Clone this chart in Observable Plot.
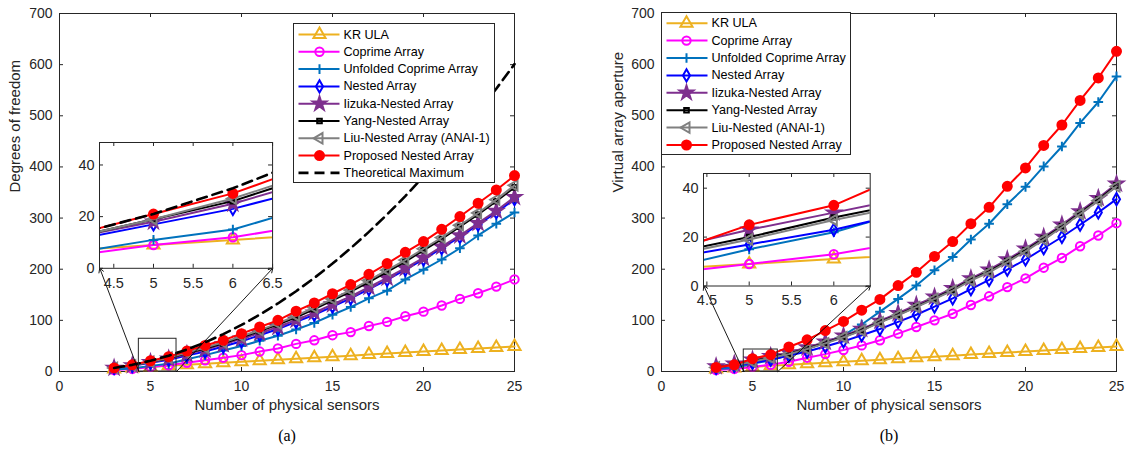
<!DOCTYPE html>
<html><head><meta charset="utf-8">
<script src="https://cdn.jsdelivr.net/npm/d3@7"></script>
<script src="https://cdn.jsdelivr.net/npm/@observablehq/plot@0.6"></script>
<style>
body{margin:0;background:#fff;}
#root{position:relative;width:1127px;height:453px;background:#fff;overflow:hidden;}
</style>
</head><body><div id="root"></div>
<script>
// ---------------- data ----------------
const N = [3,4,5,6,7,8,9,10,11,12,13,14,15,16,17,18,19,20,21,22,23,24,25];

const namesA = ["KR ULA","Coprime Array","Unfolded Coprime Array","Nested Array","Iizuka-Nested Array","Yang-Nested Array","Liu-Nested Array (ANAI-1)","Proposed Nested Array","Theoretical Maximum"];
const namesB = ["KR ULA","Coprime Array","Unfolded Coprime Array","Nested Array","Iizuka-Nested Array","Yang-Nested Array","Liu-Nested (ANAI-1)","Proposed Nested Array"];

// (a) degrees of freedom
const krA       = [5,7,9,11,13,15,17,19,21,23,25,27,29,31,33,35,37,39,41,43,45,47,49];
const coprimeA  = [3,5,9,12,17,22,27,32,39,45,54,61,71,77,89,97,108,117,129,142,153,166,180];
const unfoldedA = [4,6,11,15,24,32,41,50,60,70,82,95,111,126,143,158,180,199,219,241,266,289,311];
const nestedA   = [7,11,17,23,31,39,49,59,71,83,97,111,127,143,161,179,199,219,241,263,287,311,337];
const iizukaA   = [7,12,18,25,34,43,53,64,75,87,101,115,131,147,165,183,202,222,244,266,290,314,341];
const yangA     = [7,12,19,26,36,45,55,67,79,92,106,122,139,156,175,195,215,237,259,283,307,333,360];
const liuA      = [7,12,19,27,37,47,57,69,81,94,109,125,142,159,178,198,218,240,262,286,310,336,364];
const proposedA = [7,13,21,29,40,51,61,74,87,100,118,134,152,170,190,211,233,254,278,303,329,355,383];
const theoryA   = [7,13,21,31,43,57,73,91,111,133,157,183,211,241,273,307,343,381,421,463,507,553,601];

// (b) virtual array aperture
const krB       = [5,7,9,11,13,15,17,19,21,23,25,27,29,31,33,35,37,39,41,43,45,47,49];
const coprimeB  = [3,5,9,13,19,27,34,42,51,61,74,87,100,113,130,147,165,182,203,222,245,266,290];
const unfoldedB = [5,7,15,22,32,44,57,71,92,117,142,168,198,224,258,289,327,361,401,440,486,527,577];
const nestedB   = [7,11,17,23,31,39,49,59,71,83,97,111,127,143,161,179,199,219,241,263,287,311,337];
const iizukaB   = [10,15,23,30,37,47,58,70,83,99,114,130,146,163,182,199,219,240,263,287,313,339,367];
const yangB     = [8,13,20,28,35,45,56,68,81,97,111,127,143,160,179,196,216,237,260,284,310,336,364];
const liuB      = [8,12,19,27,34,44,55,67,80,96,110,126,142,158,178,194,214,235,258,282,308,334,362];
const proposedB = [8,13,25,33,48,62,80,98,120,141,168,194,225,254,289,321,362,398,442,482,530,574,626];

const xTicksMain = [0,5,10,15,20,25];
const yTicksMain = [0,100,200,300,400,500,600,700];
const insetXTicksA = [4.5,5,5.5,6,6.5];
const insetXTicksB = [4.5,5,5.5,6];
const insetYTicks = [0,20,40];

// ---------------- styles ----------------
const triLeft = {draw(ctx, size){ const r = Math.sqrt(size/Math.PI)*1.25; ctx.moveTo(-r,0); ctx.lineTo(r*0.5,-r*0.866); ctx.lineTo(r*0.5,r*0.866); ctx.closePath(); }};
const seriesStyle = [
  {color:"#EDB120", symbol:"triangle", fill:"none", r:4.5},
  {color:"#FF00FF", symbol:"circle",   fill:"none", r:4.2},
  {color:"#0072BD", symbol:"plus",     fill:"none", r:3.2},
  {color:"#0000FF", symbol:"diamond",  fill:"none", r:3.7},
  {color:"#7E2F8E", symbol:"star",     fill:"#7E2F8E", r:4.3},
  {color:"#000000", symbol:"square",   fill:"none", r:2.6},
  {color:"#808080", symbol:triLeft,    fill:"none", r:4.8},
  {color:"#FF0000", symbol:"circle",   fill:"#FF0000", r:4.5},
  {color:"#000000", symbol:null, dash:"10,6", width:2.6}
];
const AXC = "#262626";
const FONT = "'Liberation Sans', Arial, Helvetica, sans-serif";

const root = document.getElementById("root");
function place(el, left, top){ el.style.position="absolute"; el.style.left=left+"px"; el.style.top=top+"px"; root.appendChild(el); }

function rowsFor(list){ const rows=[]; list.forEach((vals,s)=>vals.forEach((v,k)=>rows.push({x:N[k], y:v, s}))); return rows; }

function seriesMarks(rows, count, clip){
  const marks=[];
  for(let s=0;s<count;s++){
    const st=seriesStyle[s]; const d=rows.filter(r=>r.s===s);
    marks.push(Plot.line(d,{x:"x",y:"y",stroke:st.color,strokeWidth:st.width||2,strokeDasharray:st.dash,clip}));
    if(st.symbol) marks.push(Plot.dot(d,{x:"x",y:"y",symbol:st.symbol,r:st.r,stroke:st.color,fill:st.fill,strokeWidth:2,clip}));
  }
  return marks;
}

function boxTicks(xt, yt, xd, yd, fw, fh, len){
  const ly = len*(yd[1]-yd[0])/fh, lx = len*(xd[1]-xd[0])/fw;
  const o = {stroke:AXC, strokeWidth:1};
  return [
    Plot.ruleX(xt,{x:d=>d,y1:yd[0],y2:yd[0]+ly,...o}),
    Plot.ruleX(xt,{x:d=>d,y1:yd[1],y2:yd[1]-ly,...o}),
    Plot.ruleY(yt,{y:d=>d,x1:xd[0],x2:xd[0]+lx,...o}),
    Plot.ruleY(yt,{y:d=>d,x1:xd[1],x2:xd[1]-lx,...o})
  ];
}

function panel(p){
  const H = 453, mt = 13, mb = 82;
  const fw = p.width - p.ml - p.mr, fh = H - mt - mb;
  const xd=[0,25], yd=[0,700];
  const rows = rowsFor(p.series);
  const n = p.series.length;
  const arrows = [
    {x1:p.rect.x1, y1:p.rect.y1, x2:p.inset.x1, y2:p.inset.y1},
    {x1:p.rect.x2, y1:p.rect.y1, x2:p.inset.x2, y2:p.inset.y1}
  ];
  const main = Plot.plot({
    width:p.width, height:H, marginLeft:p.ml, marginRight:p.mr, marginTop:mt, marginBottom:mb,
    x:{domain:xd, ticks:xTicksMain, tickSize:0, tickPadding:10, label:null, tickFormat:d=>String(d)},
    y:{domain:yd, ticks:yTicksMain, tickSize:0, tickPadding:7, label:null, tickFormat:d=>String(d)},
    style:{background:"transparent", overflow:"visible", fontFamily:FONT, fontSize:"14px", color:AXC},
    marks:[
      ...boxTicks(xTicksMain, yTicksMain, xd, yd, fw, fh, 4),
      Plot.frame({stroke:AXC, strokeWidth:1}),
      ...seriesMarks(rows, n, false),
      Plot.rect([p.rect],{x1:"x1",x2:"x2",y1:"y1",y2:"y2",fill:"none",stroke:AXC,strokeWidth:1}),
      Plot.arrow(arrows,{x1:"x1",y1:"y1",x2:"x2",y2:"y2",stroke:"#000",strokeWidth:0.9,headLength:8}),
      Plot.text([p.xlabel],{frameAnchor:"bottom", dy:38, fontSize:15, fill:AXC}),
      Plot.text([p.ylabel],{frameAnchor:"left", rotate:-90, dx:p.ylabDx, fontSize:15, fill:AXC}),
      Plot.text([p.caption],{frameAnchor:"bottom", dy:69, fontSize:16, fontFamily:"'Liberation Serif', 'Times New Roman', serif", fill:"#000"})
    ]
  });
  place(main, p.left, 0);

  // inset
  const px = x => p.left + p.ml + (x - xd[0])/(xd[1]-xd[0])*fw;
  const py = y => mt + fh - (y - yd[0])/(yd[1]-yd[0])*fh;
  const fx1 = px(p.inset.x1), fx2 = px(p.inset.x2), fy1 = py(p.inset.y2), fy2 = py(p.inset.y1);
  const iml=40, imr=18, imt=20, imb=34;
  const ifw = fx2-fx1, ifh = fy2-fy1;
  const irows = rows.filter(r=>r.x>=4 && r.x<=7);
  const inset = Plot.plot({
    width:ifw+iml+imr, height:ifh+imt+imb, marginLeft:iml, marginRight:imr, marginTop:imt, marginBottom:imb,
    x:{domain:p.ixd, ticks:p.ixt, tickSize:0, tickPadding:9, label:null, tickFormat:d=>String(d)},
    y:{domain:p.iyd, ticks:insetYTicks, tickSize:0, tickPadding:5, label:null, tickFormat:d=>String(d)},
    style:{background:"transparent", overflow:"visible", fontFamily:FONT, fontSize:"14.5px", color:AXC},
    marks:[
      Plot.frame({fill:"white"}),
      ...boxTicks(p.ixt, insetYTicks, p.ixd, p.iyd, ifw, ifh, 4),
      ...seriesMarks(irows, n, true),
      Plot.frame({stroke:AXC, strokeWidth:1})
    ]
  });
  place(inset, fx1-iml, fy1-imt);

  // legend
  const L = p.legend;
  const items = p.names.map((name,i)=>({name, i, yy:L.y0 + i*L.step, x1:5, x2:46, xm:L.xm, xt:50}));
  const lmarks = [Plot.frame({fill:"white", stroke:AXC, strokeWidth:1})];
  items.forEach(it=>{
    const st = seriesStyle[it.i];
    lmarks.push(Plot.link([it],{x1:"x1",x2:"x2",y1:"yy",y2:"yy",stroke:st.color,strokeWidth:st.width||2,strokeDasharray:st.dash}));
    if(st.symbol) lmarks.push(Plot.dot([it],{x:"xm",y:"yy",symbol:st.symbol,r:st.r,stroke:st.color,fill:st.fill,strokeWidth:2}));
  });
  lmarks.push(Plot.text(items,{x:"xt",y:"yy",text:"name",textAnchor:"start",fontSize:12.6,fill:"#000"}));
  const leg = Plot.plot({
    width:L.w, height:L.h, margin:0,
    x:{domain:[0,L.w], range:[0,L.w], axis:null},
    y:{domain:[0,L.h], range:[0,L.h], axis:null},
    style:{background:"transparent", overflow:"visible", fontFamily:FONT, color:"#000"},
    marks:lmarks
  });
  place(leg, L.x, L.y);
}

panel({
  left:0, width:560, ml:59, mr:46,
  series:[krA,coprimeA,unfoldedA,nestedA,iizukaA,yangA,liuA,proposedA,theoryA],
  names:namesA,
  xlabel:"Number of physical sensors", ylabel:"Degrees of freedom", ylabDx:-44, caption:"(a)",
  rect:{x1:4.36,x2:6.43,y1:0,y2:64},
  inset:{x1:2.21,x2:11.72,y1:202,y2:448},
  ixd:[4.32,6.5], iyd:[0,48.7], ixt:insetXTicksA,
  legend:{x:293, y:23, w:201, h:159, y0:11, step:17.3, xm:26}
});

panel({
  left:600, width:527, ml:61, mr:11,
  series:[krB,coprimeB,unfoldedB,nestedB,iizukaB,yangB,liuB,proposedB],
  names:namesB,
  xlabel:"Number of physical sensors", ylabel:"Virtual array aperture", ylabDx:-43, caption:"(b)",
  rect:{x1:4.52,x2:6.39,y1:0,y2:43},
  inset:{x1:2.32,x2:11.48,y1:168,y2:388},
  ixd:[4.46,6.43], iyd:[0,46], ixt:insetXTicksB,
  legend:{x:661, y:12, w:189, h:142, y0:10.7, step:17.4, xm:25}
});
</script>
</body></html>
